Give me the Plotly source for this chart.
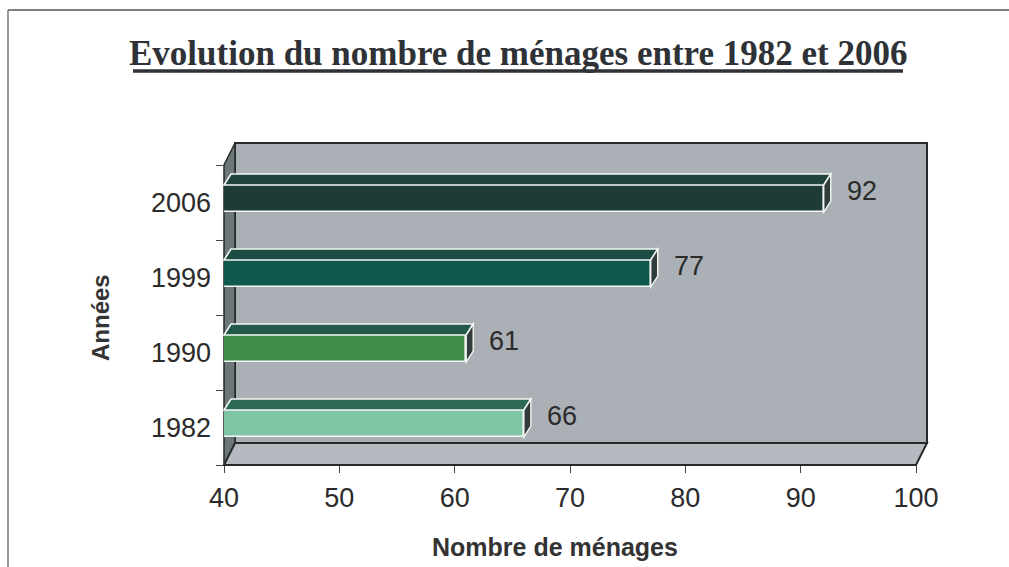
import plotly.graph_objects as go

# ---- data ----
years = ["1982", "1990", "1999", "2006"]
menages = [66, 61, 77, 92]
front_colors = ["#80c4a6", "#3f8e49", "#0f5a4d", "#1e3b38"]
top_colors = ["#2c6a56", "#21594a", "#1c4c44", "#22423e"]
x_ticks = [40, 50, 60, 70, 80, 90, 100]
title_text = "Evolution du nombre de ménages entre 1982 et 2006"
x_title = "Nombre de ménages"
y_title = "Années"

# ---- geometry (pixels of the 1009x567 canvas) ----
W, H = 1009, 567
L, R, T, B = 224, 93, 165, 102
PW, PH = W - L - R, H - T - B
XMIN, XMAX = 40, 100
BAR_OFF, BAR_W = -0.127, 0.36


def px_x(p):
    return (p - L) / PW


def px_y(p):
    return (H - B - p) / PH


def dat_x(v):
    return (v - XMIN) / (XMAX - XMIN)


def cat_y(c):
    return (c + 0.5) / len(years)


fig = go.Figure()
fig.add_trace(go.Bar(
    y=years,
    x=[v - XMIN for v in menages],
    base=XMIN,
    orientation="h",
    width=BAR_W,
    offset=BAR_OFF,
    marker=dict(color=front_colors, line=dict(color="#f4f6f4", width=1.6)),
    hoverinfo="skip",
))

shapes = []
ink = "#262a2a"
# outer frame
shapes.append(dict(type="line", xref="paper", yref="paper",
                   x0=px_x(8), x1=px_x(1009), y0=px_y(10), y1=px_y(10),
                   line=dict(color="#555", width=1.5)))
shapes.append(dict(type="line", xref="paper", yref="paper",
                   x0=px_x(8), x1=px_x(8), y0=px_y(10), y1=px_y(567),
                   line=dict(color="#777", width=1.5)))
# title underline
shapes.append(dict(type="line", xref="paper", yref="paper",
                   x0=px_x(133), x1=px_x(903), y0=px_y(71), y1=px_y(71),
                   line=dict(color="#2e3236", width=3.5)))

DX, DY = 11, 22  # wall depth in px
x0, x1 = dat_x(XMIN), dat_x(XMAX)
y0, y1 = 0.0, 1.0
dxp, dyp = DX / PW, DY / PH
# back wall
shapes.append(dict(type="rect", xref="paper", yref="paper", layer="below",
                   x0=x0 + dxp, x1=x1 + dxp, y0=y0 + dyp, y1=y1 + dyp,
                   fillcolor="#aab0b5", line=dict(color=ink, width=2)))
# left wall
shapes.append(dict(type="path", xref="paper", yref="paper", layer="below",
                   path=f"M {x0},{y0} L {x0},{y1} L {x0+dxp},{y1+dyp} L {x0+dxp},{y0+dyp} Z",
                   fillcolor="#6c7877", line=dict(color=ink, width=1.5)))
# floor
shapes.append(dict(type="path", xref="paper", yref="paper", layer="below",
                   path=f"M {x0},{y0} L {x1},{y0} L {x1+dxp},{y0+dyp} L {x0+dxp},{y0+dyp} Z",
                   fillcolor="#b4babf", line=dict(color=ink, width=2)))

# bar top and side faces
bdx, bdy = 7 / PW, 11 / PH
for i, v in enumerate(menages):
    yb = (i + BAR_OFF + 0.5) / len(years)
    yt = (i + BAR_OFF + BAR_W + 0.5) / len(years)
    xa, xb = dat_x(XMIN), dat_x(v)
    shapes.append(dict(type="path", xref="paper", yref="paper", layer="above",
                       path=f"M {xa},{yt} L {xb},{yt} L {xb+bdx},{yt+bdy} L {xa+bdx},{yt+bdy} Z",
                       fillcolor=top_colors[i], line=dict(color="#f4f6f4", width=1.6)))
    shapes.append(dict(type="path", xref="paper", yref="paper", layer="above",
                       path=f"M {xb},{yb} L {xb},{yt} L {xb+bdx},{yt+bdy} L {xb+bdx},{yb+bdy} Z",
                       fillcolor="#2f3c3a", line=dict(color="#f4f6f4", width=1.4)))

annotations = []
for i, v in enumerate(menages):
    annotations.append(dict(x=dat_x(v), y=cat_y(i), xref="paper", yref="paper", text=str(v),
                            showarrow=False, xanchor="left", yanchor="middle",
                            xshift=21, yshift=12,
                            font=dict(family="Liberation Sans, Arial", size=27, color="#2b2b2b")))
annotations.append(dict(x=px_x(518), y=px_y(54), xref="paper", yref="paper",
                        text=f"<b>{title_text}</b>", showarrow=False,
                        xanchor="center", yanchor="middle",
                        font=dict(family="Liberation Serif, Times New Roman", size=35, color="#2e3236")))
annotations.append(dict(x=px_x(555), y=px_y(547), xref="paper", yref="paper",
                        text=f"<b>{x_title}</b>", showarrow=False,
                        xanchor="center", yanchor="middle",
                        font=dict(family="Liberation Sans, Arial", size=25, color="#333")))
annotations.append(dict(x=px_x(100), y=px_y(318), xref="paper", yref="paper",
                        text=f"<b>{y_title}</b>", showarrow=False, textangle=-90,
                        xanchor="center", yanchor="middle",
                        font=dict(family="Liberation Sans, Arial", size=24, color="#333")))

fig.update_layout(
    width=W, height=H, autosize=False,
    margin=dict(l=L, r=R, t=T, b=B, pad=0),
    paper_bgcolor="white", plot_bgcolor="rgba(0,0,0,0)",
    showlegend=False,
    shapes=shapes, annotations=annotations,
    bargap=0,
)
fig.update_xaxes(range=[XMIN, XMAX], tickvals=x_ticks, showgrid=False, zeroline=False,
                 showline=False, ticks="outside", ticklen=7, tickwidth=1.2, tickcolor="#444",
                 ticklabelstandoff=2,
                 tickfont=dict(family="Liberation Sans, Arial", size=27, color="#2b2b2b"))
fig.update_yaxes(type="category", categoryorder="array", categoryarray=years,
                 range=[-0.5, len(years) - 0.5], showgrid=False, zeroline=False,
                 showline=False, ticks="outside", tickson="boundaries", ticklen=7,
                 tickwidth=1.2, tickcolor="#444", ticklabelstandoff=12,
                 tickfont=dict(family="Liberation Sans, Arial", size=27, color="#2b2b2b"))

fig.write_html("out.html", config={"displayModeBar": False},
               post_script="document.body.style.margin='0';")
